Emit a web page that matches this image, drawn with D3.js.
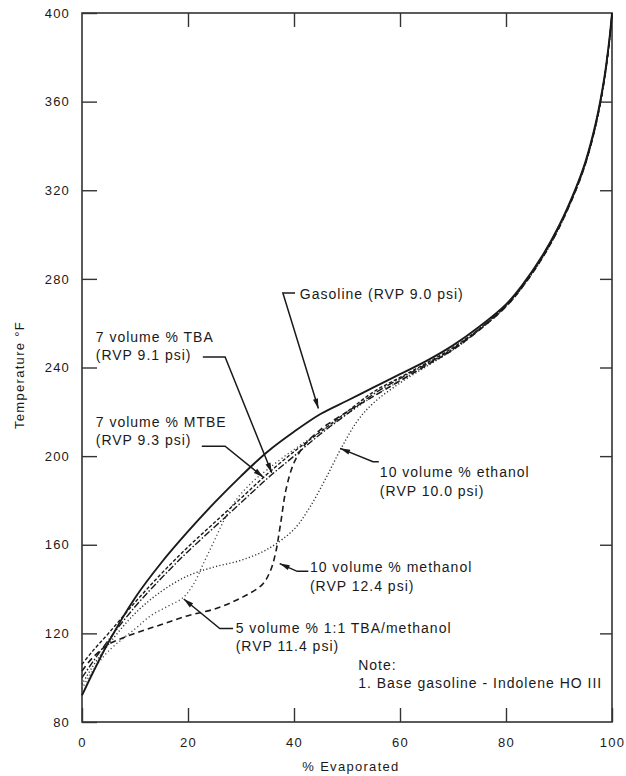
<!DOCTYPE html>
<html>
<head>
<meta charset="utf-8">
<script src="https://cdn.jsdelivr.net/npm/d3@7"></script>
<style>
  html, body { margin: 0; padding: 0; background: #fff; }
  svg { display: block; }
  text { font-family: "Liberation Sans", Arial, Helvetica, sans-serif; fill: #1a1a1a; }
</style>
</head>
<body>
<svg id="chart" width="626" height="776"></svg>
<script>
// ---------------- DATA ----------------
const xTicks = [0, 20, 40, 60, 80, 100];
const yTicks = [80, 120, 160, 200, 240, 280, 320, 360, 400];

// [% evaporated, temperature °F]
const gasoline = [[0,92],[2,102],[5,116],[10,136],[15,152],[20,166],[25,179],[30,191],[35,202],[40,211],[45,219],[50,225],[55,231],[60,237],[65,243],[70,250],[75,258.5],[80,268.5],[83,277],[87,291],[90,304],[93,320],[95,333],[97,351],[98.5,370],[99.5,388],[100,400]];
const tba7 = [[0,100],[2,107],[5,117],[10,132],[15,145],[20,157],[25,168],[30,179],[35,190],[40,200],[45,210],[50,219],[55,228],[60,235],[65,241.5],[70,248.5],[75,257.5],[80,268],[83,276.5],[87,290.5],[90,303.5],[93,319.5],[95,332.5],[97,350.5],[98.5,369.5],[99.5,387.5],[100,399.5]];
const mtbe7 = [[0,106],[2,112],[5,120],[10,134],[15,147],[20,159],[25,170],[30,181],[35,192],[40,202],[45,211],[50,220],[55,229],[60,235.5],[65,242],[70,249],[75,257.5],[80,268],[83,276.5],[87,290.5],[90,303.5],[93,319.5],[95,332.5],[97,350.5],[98.5,369.5],[99.5,387.5],[100,399.5]];
const ethanol10 = [[0,97],[2,105],[5,115],[10,129],[15,139],[20,146],[25,150],[30,153],[35,158],[40,167],[43,177],[46,190],[49,204],[52,216],[55,224],[60,233],[65,240.5],[70,248],[75,257],[80,267.5],[83,276],[87,290],[90,303],[93,319],[95,332],[97,350],[98.5,369],[99.5,387],[100,399]];
const methanol10 = [[0,103],[2,109],[5,115],[10,120],[15,124],[20,128],[25,131],[30,136],[34,142],[35.5,148],[36.5,156],[37.5,170],[38.5,185],[40,197],[42,205],[45,212],[50,220],[55,227],[60,234],[65,241],[70,248],[75,257],[80,267.5],[83,276],[87,290],[90,303],[93,319],[95,332],[97,350],[98.5,369],[99.5,387],[100,399]];
const tbaMeth5 = [[0,95],[2,103],[5,112],[10,122],[13,128],[16,132],[19,136],[21,142],[23,152],[25,162],[27,172],[29,180],[32,188],[35,194],[40,203],[45,211],[50,219],[55,227],[60,234],[65,241],[70,248],[75,257],[80,267.5],[83,276],[87,290],[90,303],[93,319],[95,332],[97,350],[98.5,369],[99.5,387],[100,399]];

// label texts
const labelGasoline = ["Gasoline (RVP 9.0 psi)"];
const labelTBA = ["7 volume % TBA", "(RVP 9.1 psi)"];
const labelMTBE = ["7 volume % MTBE", "(RVP 9.3 psi)"];
const labelEthanol = ["10 volume % ethanol", "(RVP 10.0 psi)"];
const labelMethanol = ["10 volume % methanol", "(RVP 12.4 psi)"];
const labelTbaMeth = ["5 volume % 1:1 TBA/methanol", "(RVP 11.4 psi)"];
const noteLines = ["Note:", "1. Base gasoline - Indolene HO III"];
const xTitle = "% Evaporated";
const yTitle = "Temperature °F";

// ---------------- LAYOUT ----------------
const svg = d3.select("#chart");
const x = d3.scaleLinear().domain([0, 100]).range([82, 612]);
const y = d3.scaleLinear().domain([80, 400]).range([722, 13]);

const ink = "#1a1a1a";

// frame
svg.append("rect")
  .attr("x", x(0)).attr("y", y(400))
  .attr("width", x(100) - x(0)).attr("height", y(80) - y(400))
  .attr("fill", "none").attr("stroke", "#333").attr("stroke-width", 1.6);

// axes
function styleAxis(g) {
  g.select(".domain").remove();
  g.selectAll(".tick line").attr("stroke", "#333").attr("stroke-width", 1.4);
  g.selectAll(".tick text")
    .attr("font-family", '"Liberation Sans", Arial, sans-serif')
    .attr("font-size", 13).attr("letter-spacing", 1.2).attr("fill", ink);
}
svg.append("g").attr("transform", `translate(${x(0)},0)`)
  .call(d3.axisLeft(y).tickValues(yTicks).tickSize(-15).tickPadding(12).tickFormat(d3.format("d")))
  .call(styleAxis);
svg.append("g").attr("transform", `translate(${x(100)},0)`)
  .call(d3.axisRight(y).tickValues(yTicks.slice(1, -1)).tickSize(-12).tickFormat(""))
  .call(styleAxis);
svg.append("g").attr("transform", `translate(0,${y(80)})`)
  .call(d3.axisBottom(x).tickValues(xTicks).tickSize(-14).tickPadding(16).tickFormat(d3.format("d")))
  .call(styleAxis);
svg.append("g").attr("transform", `translate(0,${y(400)})`)
  .call(d3.axisTop(x).tickValues(xTicks.slice(1, -1)).tickSize(-14).tickFormat(""))
  .call(styleAxis);

// axis titles
svg.append("text").attr("x", (x(0) + x(100)) / 2 + 4).attr("y", 771)
  .attr("text-anchor", "middle").attr("font-size", 13).attr("letter-spacing", 1.3).text(xTitle);
svg.append("text").attr("transform", `translate(24,${375}) rotate(-90)`)
  .attr("text-anchor", "middle").attr("font-size", 13).attr("letter-spacing", 1.3).text(yTitle);

// curves
const line = d3.line().x(d => x(d[0])).y(d => y(d[1])).curve(d3.curveCatmullRom.alpha(0.5));
const series = [
  { data: tbaMeth5,   dash: "1.2,2.6",       w: 1.3, c: "#444" },
  { data: ethanol10,  dash: "1.2,2.2",       w: 1.4, c: "#333" },
  { data: methanol10, dash: "6,4",           w: 1.6, c: ink },
  { data: tba7,       dash: "7,2,1.5,2",     w: 1.4, c: ink },
  { data: mtbe7,      dash: "3.5,2",         w: 1.4, c: ink },
  { data: gasoline,   dash: null,            w: 1.9, c: ink }
];
svg.append("g").selectAll("path").data(series).join("path")
  .attr("d", d => line(d.data))
  .attr("fill", "none")
  .attr("stroke", d => d.c)
  .attr("stroke-width", d => d.w)
  .attr("stroke-dasharray", d => d.dash);

// ---------------- ANNOTATIONS (in data units) ----------------
// leader paths: from label end to arrow tip (last point)
const leaders = [
  [[40.2,273.6],[37.9,273.6],[44.6,221.5]],   // gasoline
  [[22.8,244.7],[27.0,244.7],[35.8,192.5]],   // TBA
  [[22.6,204.5],[27.0,204.5],[34.2,190.5]],   // MTBE
  [[56.0,197.5],[54.9,197.5],[48.7,203.5]],   // ethanol
  [[42.7,148],[40.6,148],[37.3,151.5]],       // methanol
  [[28.5,122.2],[26.0,122.2],[19.2,135.5]]    // TBA/methanol
];

const pathLine = d3.line().x(d => x(d[0])).y(d => y(d[1]));
const annG = svg.append("g");
leaders.forEach(pts => {
  annG.append("path").attr("d", pathLine(pts))
    .attr("fill", "none").attr("stroke", ink).attr("stroke-width", 1.5);
  const n = pts.length;
  const tip = [x(pts[n-1][0]), y(pts[n-1][1])];
  const prev = [x(pts[n-2][0]), y(pts[n-2][1])];
  const ang = Math.atan2(tip[1] - prev[1], tip[0] - prev[0]);
  const L = 10, Wd = 2.6;
  const bx = tip[0] - L * Math.cos(ang), by = tip[1] - L * Math.sin(ang);
  const px = -Math.sin(ang) * Wd, py = Math.cos(ang) * Wd;
  annG.append("path")
    .attr("d", `M${tip[0]},${tip[1]}L${bx + px},${by + py}L${bx - px},${by - py}Z`)
    .attr("fill", ink);
});

// text labels (positioned in data units)
function addLabel(lines, p, t) {
  const tx = svg.append("text").attr("font-size", 14).attr("letter-spacing", 1);
  lines.forEach((s, i) => {
    tx.append("tspan").attr("x", x(p)).attr("y", y(t) + i * 18.5).text(s);
  });
}
addLabel(labelGasoline, 41.1, 270.7);
addLabel(labelTBA, 2.6, 251.7);
addLabel(labelMTBE, 2.6, 213.3);
addLabel(labelEthanol, 56.2, 190.5);
addLabel(labelMethanol, 43.0, 147.5);
addLabel(labelTbaMeth, 29.0, 120.3);
addLabel(noteLines, 52.1, 103.5);
</script>
</body>
</html>
